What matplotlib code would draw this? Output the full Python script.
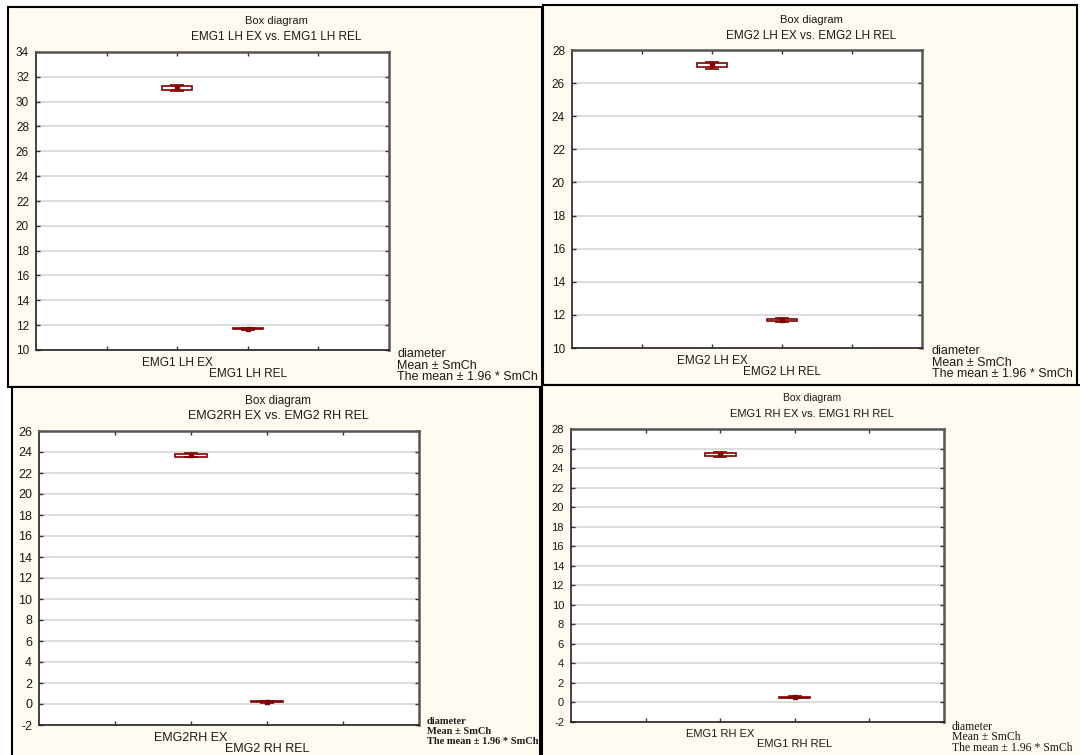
import matplotlib
matplotlib.use('Agg')
import matplotlib.pyplot as plt
from matplotlib.patches import Rectangle

plt.rcParams['axes.unicode_minus'] = False

# data (mean, SE half-box, 1.96*SE whisker)
titles = ['EMG1 LH EX vs. EMG1 LH REL', 'EMG2 LH EX vs. EMG2 LH REL',
          'EMG2RH EX vs. EMG2 RH REL', 'EMG1 RH EX vs. EMG1 RH REL']
cats = [['EMG1 LH EX', 'EMG1 LH REL'], ['EMG2 LH EX', 'EMG2 LH REL'],
        ['EMG2RH EX', 'EMG2 RH REL'], ['EMG1 RH EX', 'EMG1 RH REL']]
means = [[31.08, 11.72], [27.07, 11.68], [23.68, 0.22], [25.40, 0.55]]
se = [[0.16, 0.05], [0.12, 0.07], [0.14, 0.04], [0.17, 0.05]]
ci = [[0.24, 0.09], [0.22, 0.11], [0.20, 0.08], [0.25, 0.09]]
ylims = [(10, 34), (10, 28), (-2, 26), (-2, 28)]
legend_lines = ['diameter', 'Mean \u00b1 SmCh', 'The mean \u00b1 1.96 * SmCh']

W, H = 1080, 755
fig = plt.figure(figsize=(W / 100, H / 100), dpi=100)
fig.patch.set_facecolor('white')

cream = '#fffbf0'
red = '#800000'
txt = '#1a1a1a'

# panel frames (pixels: left, top, right, bottom)
frames = [(8, 7, 542, 387), (543, 5, 1077, 385), (12, 387, 540, 757), (542, 385, 1082, 757)]
for l, t, r, b in frames:
    fig.patches.append(Rectangle((l / W, 1 - b / H), (r - l) / W, (b - t) / H,
                                 transform=fig.transFigure, facecolor=cream,
                                 edgecolor='black', linewidth=1.5, zorder=-5))

# plot areas in pixels
boxes = [(36, 52, 389, 350), (572, 50, 922, 348), (39, 431, 419, 725), (571, 429, 944, 722)]
title_pos = [(276, 21, 37), (811, 20, 36), (278, 401, 416), (812, 398, 414)]
legend_pos = [(397, 349, 11.5), (932, 346, 11.5), (427, 716, 10), (952, 722, 10.5)]

sans = ['Liberation Sans', 'DejaVu Sans']
serif = ['Liberation Serif', 'DejaVu Serif']
fonts = [(sans, 8.5, sans, 9, 'normal'), (sans, 8.5, sans, 9, 'normal'),
         (sans, 9, serif, 7.5, 'bold'), (sans, 8, serif, 8.5, 'normal')]

for i in range(4):
    l, t, r, b = boxes[i]
    ax = fig.add_axes([l / W, 1 - b / H, (r - l) / W, (b - t) / H], zorder=2)
    ax.set_facecolor('white')
    fam, fs, lfam, lfs, lw8 = fonts[i]

    x = [2, 3]
    ax.bar(x, [2 * s for s in se[i]], bottom=[m - s for m, s in zip(means[i], se[i])],
           width=0.42, color='white', edgecolor=red, linewidth=1.2, zorder=3)
    ax.errorbar(x, means[i], yerr=ci[i], fmt='s', color=red, ecolor=red,
                markersize=3.5, capsize=5, capthick=1.2, elinewidth=1.2, zorder=4)

    y0, y1 = ylims[i]
    ax.set_xlim(0, 5)
    ax.set_ylim(y0, y1)
    ax.set_yticks(range(y0, y1 + 1, 2))
    ax.set_xticks([1, 2, 3, 4])
    ax.set_xticklabels(['', cats[i][0], '\n' + cats[i][1], ''],
                       family=fam, fontsize=fs, color=txt, linespacing=0.95)
    for lab in ax.get_yticklabels():
        lab.set_family(fam)
        lab.set_fontsize(fs)
        lab.set_color(txt)
    ax.tick_params(direction='in', length=3, top=True, right=True, width=1,
                   color='#333333', pad=5)
    ax.tick_params(axis='x', pad=5)
    ax.grid(axis='y', color='#dadada', linewidth=1.3, zorder=0)
    ax.set_axisbelow(True)
    for side in ['left', 'bottom']:
        ax.spines[side].set_color('#222222')
        ax.spines[side].set_linewidth(1.2)
    for side in ['top', 'right']:
        ax.spines[side].set_color('#555555')
        ax.spines[side].set_linewidth(1.8)

    cx, ty1, ty2 = title_pos[i]
    fig.text(cx / W, 1 - ty1 / H, 'Box diagram', ha='center', va='center',
             family=fam, fontsize=fs - 0.5, color=txt)
    fig.text(cx / W, 1 - ty2 / H, titles[i], ha='center', va='center',
             family=fam, fontsize=fs, color=txt)

    lx, ly, step = legend_pos[i]
    for k, line in enumerate(legend_lines):
        fig.text(lx / W, 1 - (ly + 5 + k * step) / H, line, ha='left', va='center',
                 family=lfam, fontsize=lfs, weight=lw8, color=txt)

fig.savefig('out.png', dpi=100, facecolor='white')
